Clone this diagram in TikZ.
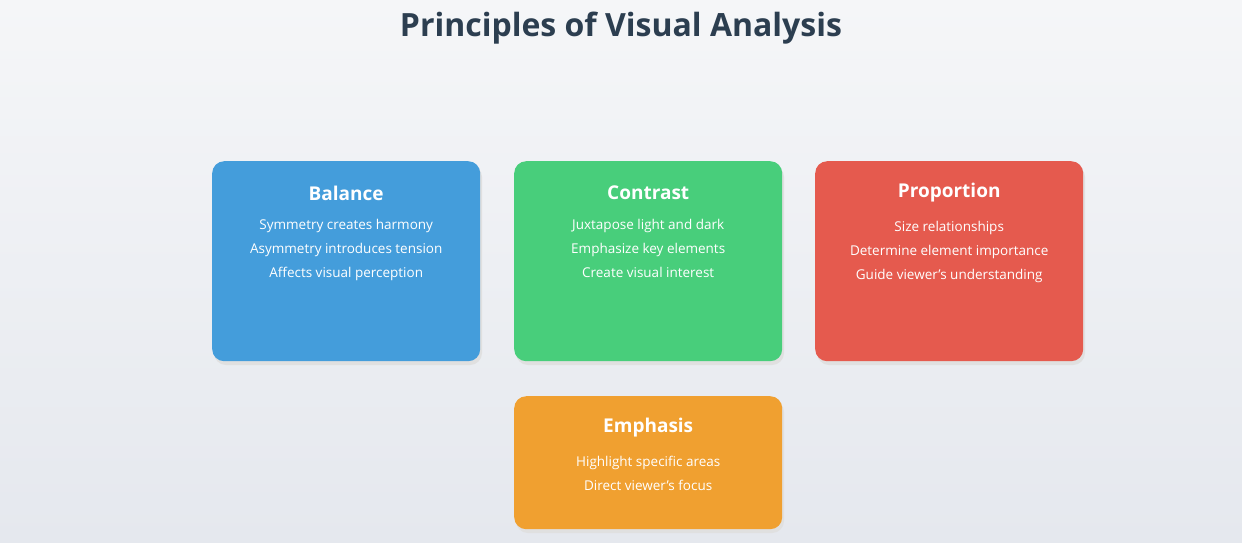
\documentclass[tikz,border=0pt]{standalone}
\usepackage{fontspec}
\setmainfont{Open Sans}
\usetikzlibrary{positioning}
\definecolor{bgtop}{HTML}{F5F6F8}
\definecolor{bgbot}{HTML}{E5E8EE}
\definecolor{titlecol}{HTML}{2C3E50}
\definecolor{balancecol}{HTML}{449DDB}
\definecolor{contrastcol}{HTML}{48CE7B}
\definecolor{proportioncol}{HTML}{E55A4E}
\definecolor{emphasiscol}{HTML}{F0A030}
\tikzset{
  card/.style={rounded corners=12pt, minimum width=268pt, anchor=north west, draw=none},
  cardtitle/.style={text=white, font=\fontsize{19}{22}\selectfont\bfseries},
  cardtext/.style={text=white, font=\fontsize{13.5}{24}\selectfont, align=center}
}
\begin{document}
\begin{tikzpicture}[x=1pt,y=-1pt]

  % background
  \shade[top color=bgtop, bottom color=bgbot] (0,0) rectangle (1242,542);
  \useasboundingbox (0,0) rectangle (1242,542);

  \node[text=titlecol, font=\fontsize{32}{36}\selectfont\bfseries] (title) at (621,28) {Principles of Visual Analysis};

  % cards
  \foreach \name/\x/\y/\h/\col in {balance/212/161/200/balancecol, contrast/514/161/200/contrastcol,
      proportion/815/161/200/proportioncol, emphasis/514/396/133/emphasiscol} {
    \fill[black!12, rounded corners=12pt] (\x+2,\y+4) rectangle ++(268,\h);
    \node[card, fill=\col, minimum height=\h pt] (\name) at (\x,\y) {};
  }

  \node[cardtitle] (balancehead) at ([yshift=-32pt]balance.north) {Balance};
  \node[cardtext, below=12pt of balancehead.south, anchor=north] (balancebody)
    {Symmetry creates harmony\\Asymmetry introduces tension\\Affects visual perception};

  \node[cardtitle] (contrasthead) at ([yshift=-32pt]contrast.north) {Contrast};
  \node[cardtext, below=12pt of contrasthead.south, anchor=north] (contrastbody)
    {Juxtapose light and dark\\Emphasize key elements\\Create visual interest};

  \node[cardtitle] (proportionhead) at ([yshift=-32pt]proportion.north) {Proportion};
  \node[cardtext, below=12pt of proportionhead.south, anchor=north] (proportionbody)
    {Size relationships\\Determine element importance\\Guide viewer's understanding};

  \node[cardtitle] (emphasishead) at ([yshift=-32pt]emphasis.north) {Emphasis};
  \node[cardtext, below=12pt of emphasishead.south, anchor=north] (emphasisbody)
    {Highlight specific areas\\Direct viewer's focus};

\end{tikzpicture}
\end{document}
